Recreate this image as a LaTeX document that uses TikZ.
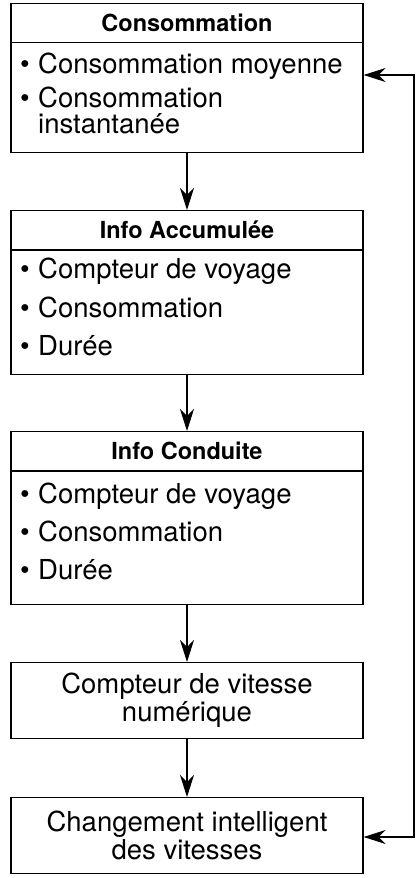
\documentclass[tikz,border=0pt]{standalone}
\usepackage{fontspec}
\setmainfont{TeX Gyre Heros}
\usetikzlibrary{arrows.meta}
\tikzset{
    head/.style={draw, line width=1.2pt, minimum width=352pt, minimum height=39pt,
        inner sep=0pt, anchor=north, font=\fontsize{23.5}{28}\selectfont\bfseries},
    body/.style={draw, line width=1.2pt, minimum width=352pt, inner sep=0pt, anchor=north},
    plain/.style={draw, line width=1.2pt, minimum width=352pt, minimum height=76pt,
        inner sep=0pt, anchor=north, align=center, font=\fontsize{27.5}{28}\selectfont},
    item/.style={anchor=base west, inner sep=0pt, font=\fontsize{27.5}{28}\selectfont},
    flow/.style={-{Stealth[length=22pt, width=14pt, inset=7pt]}, line width=1.2pt},
    loopback/.style={{Stealth[length=22pt, width=14pt, inset=7pt]}-{Stealth[length=22pt, width=14pt, inset=7pt]}, line width=1.2pt}
}
\begin{document}
\begin{tikzpicture}[x=1pt, y=-1pt]
    \useasboundingbox (0, 0) rectangle (417, 878);
    % Consommation
    \node[head] (consH) at (187, 3){Consommation};
    \node[body, minimum height=110pt] (consB) at (187, 42){};
        \node[item] (consD1) at (20, 73){\textbullet};
        \node[item] (consI1) at (38, 73){Consommation moyenne};
        \node[item] (consD2) at (20, 107){\textbullet};
        \node[item] (consI2) at (38, 107){Consommation};
        \node[item] (consI3) at (38, 133){instantanée};
    % Info Accumulee
    \node[head] (accH) at (187, 210){Info Accumulée};
    \node[body, minimum height=124pt] (accB) at (187, 250){};
        \node[item] (accD1) at (20, 278){\textbullet};
        \node[item] (accI1) at (38, 278){Compteur de voyage};
        \node[item] (accD2) at (20, 317){\textbullet};
        \node[item] (accI2) at (38, 317){Consommation};
        \node[item] (accD3) at (20, 355){\textbullet};
        \node[item] (accI3) at (38, 355){Durée};
    % Info Conduite
    \node[head] (condH) at (187, 431){Info Conduite};
    \node[body, minimum height=133pt] (condB) at (187, 471){};
        \node[item] (condD1) at (20, 503){\textbullet};
        \node[item] (condI1) at (38, 503){Compteur de voyage};
        \node[item] (condD2) at (20, 541){\textbullet};
        \node[item] (condI2) at (38, 541){Consommation};
        \node[item] (condD3) at (20, 579){\textbullet};
        \node[item] (condI3) at (38, 579){Durée};
    % vitesse
    \node[plain] (speed) at (187, 662){Compteur de vitesse\\numérique};
    \node[plain] (gear) at (187, 797){Changement intelligent\\des vitesses};
    % arrows
    \draw[flow] (consB.south) to (accH.north);
    \draw[flow] (accB.south) to (condH.north);
    \draw[flow] (condB.south) to (speed.north);
    \draw[flow] (speed.south) to (gear.north);
    \coordinate (loopTop) at (414, 75);
    \coordinate (loopBot) at (414, 837);
    \draw[loopback] (consB.east |- loopTop) to (loopTop) to (loopBot) to (gear.east |- loopBot);
\end{tikzpicture}
\end{document}
